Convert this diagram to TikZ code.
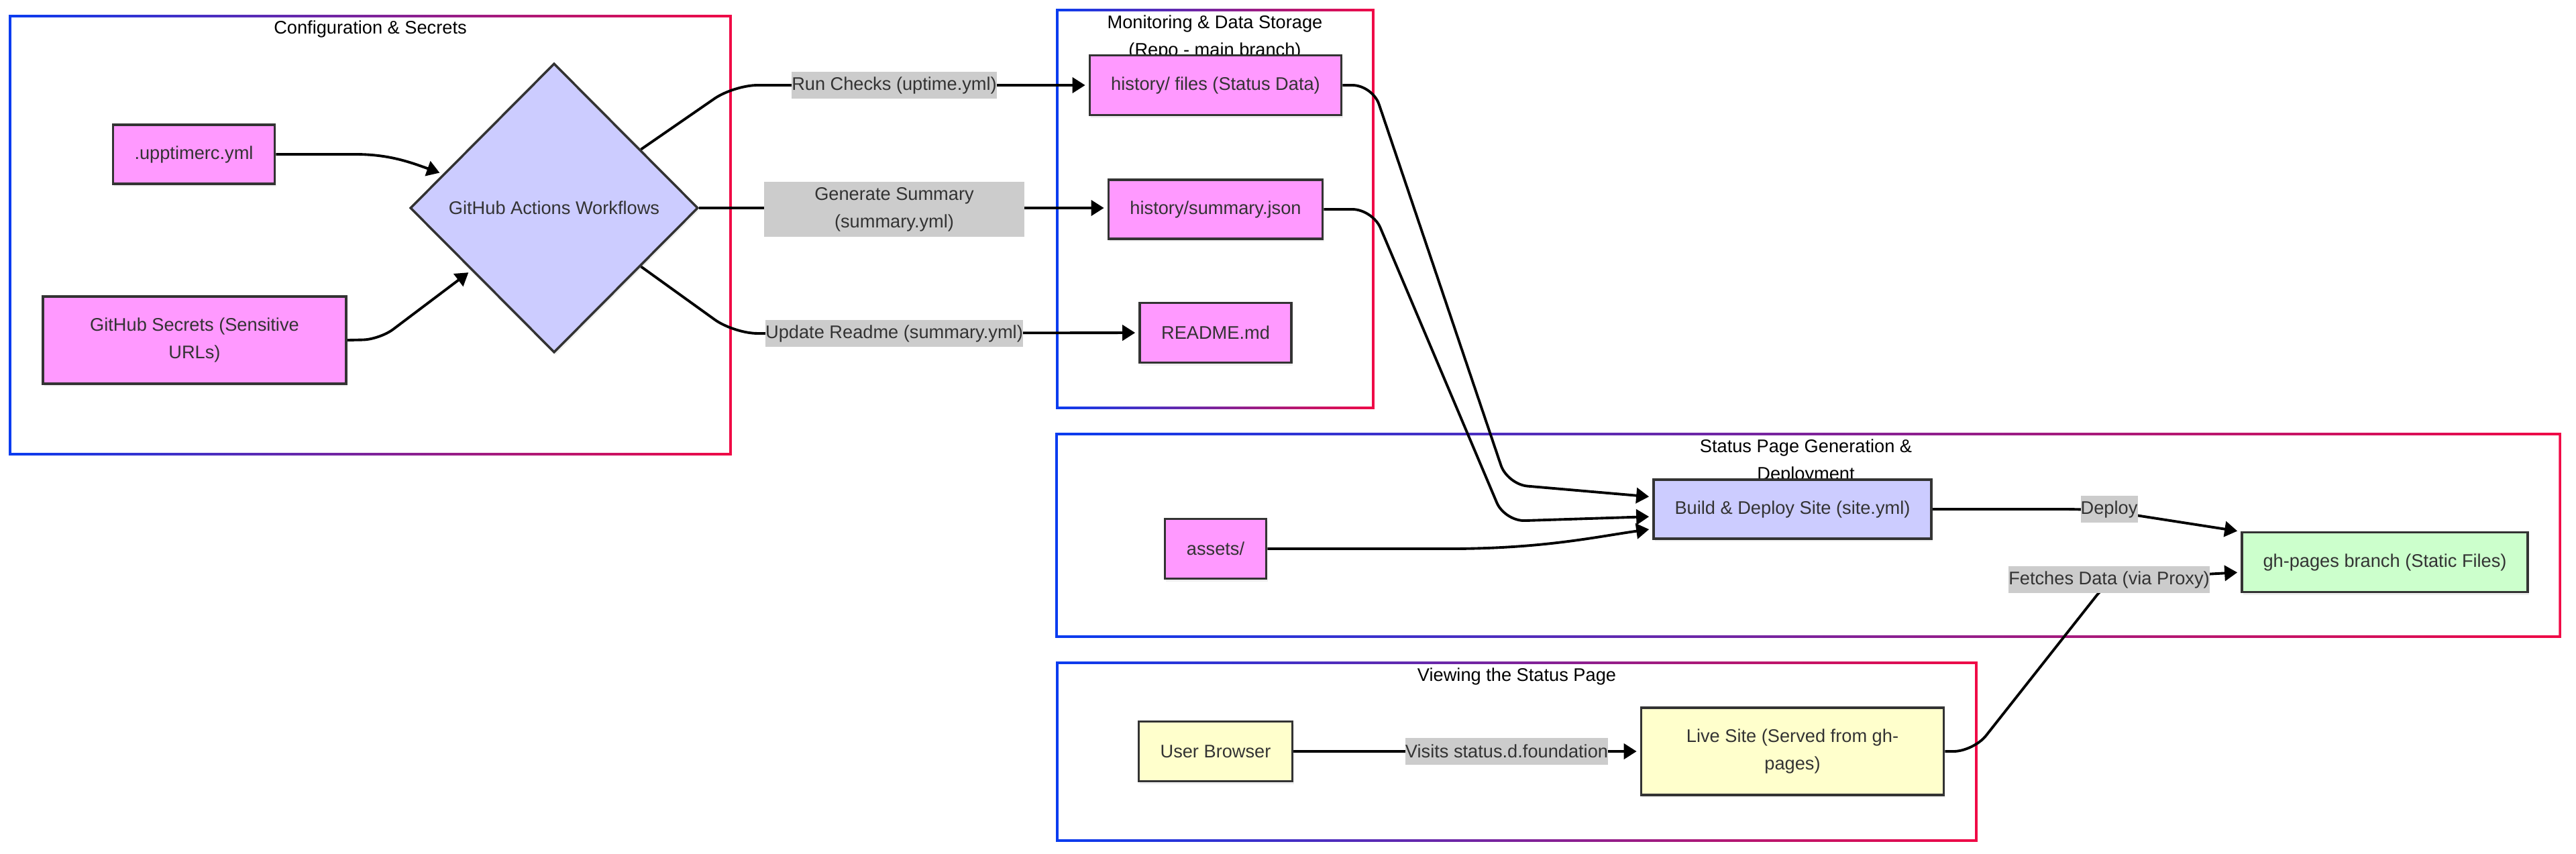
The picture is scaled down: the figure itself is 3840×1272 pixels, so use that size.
\documentclass[tikz,border=0pt]{standalone}
\usepackage{fontspec}
\setmainfont{Liberation Sans}
\usetikzlibrary{shapes.geometric,arrows.meta,shadows}
\definecolor{tx}{HTML}{333333}
\definecolor{pinkf}{HTML}{FF99FF}
\definecolor{bluef}{HTML}{CCCCFF}
\definecolor{greenf}{HTML}{CCFFCC}
\definecolor{yellowf}{HTML}{FFFFCC}
\definecolor{lblbg}{HTML}{CCCCCC}
\definecolor{cblue}{RGB}{10,60,240}
\definecolor{cred}{RGB}{240,10,70}
\pgfdeclarelayer{frames}
\pgfdeclarelayer{edges}
\pgfsetlayers{frames,edges,main}
\newcommand\gradframe[4]{%
  \shade[left color=cblue, right color=cred, even odd rule]
    (#1-1.8,#2-1.8) rectangle (#3+1.8,#4+1.8)
    (#1+1.8,#2+1.8) rectangle (#3-1.8,#4-1.8);}
\begin{document}
\begin{tikzpicture}[x=0.01cm,y=-0.01cm,
  font=\fontsize{7.74pt}{11.7pt}\selectfont,
  nbox/.style={draw=tx, line width=1pt, text=tx, inner sep=0pt, align=center,
    drop shadow={opacity=0.12, shadow xshift=0.02cm, shadow yshift=-0.04cm}},
  pinkbox/.style={nbox, fill=pinkf},
  bluebox/.style={nbox, fill=bluef},
  greenbox/.style={nbox, fill=greenf},
  yellowbox/.style={nbox, fill=yellowf},
  elabel/.style={fill=lblbg, text=tx, inner xsep=0pt, inner ysep=0pt, align=center, minimum height=0.40cm},
  edge/.style={draw=black, line width=1.1pt, -{Triangle[length=0.19cm,width=0.23cm]}, shorten >=0.05cm},
  ctitle/.style={text=black, inner sep=0pt, align=center},
]
\useasboundingbox (0,0) rectangle (3840,1272);

% clusters
\begin{pgfonlayer}{frames}
\gradframe{15}{24}{1089}{677}
\gradframe{1576}{15}{2047}{608}
\gradframe{1575}{647}{3816}{949}
\gradframe{1576}{988}{2946}{1253}
\node[ctitle] (t1) at (552,43) {Configuration \& Secrets};
\node[ctitle] (t2) at (1811,56) {Monitoring \& Data Storage\\(Repo - main branch)};
\node[ctitle] (t3) at (2692,688) {Status Page Generation \&\\Deployment};
\node[ctitle] (t4) at (2261,1008) {Viewing the Status Page};
\end{pgfonlayer}

% nodes
\node[pinkbox, minimum width=2.41cm, minimum height=0.88cm] (up) at (289,230) {.upptimerc.yml};
\node[diamond, aspect=1, draw=tx, fill=bluef, line width=1pt, text=tx, inner sep=0pt,
  minimum width=4.29cm, minimum height=4.31cm,
  drop shadow={opacity=0.12, shadow xshift=0.02cm, shadow yshift=-0.04cm}] (wf) at (826,310) {GitHub Actions Workflows};
\node[pinkbox, minimum width=4.52cm, minimum height=1.30cm] (gs) at (290,507) {GitHub Secrets (Sensitive\\URLs)};
\node[pinkbox, minimum width=3.75cm, minimum height=0.89cm] (hf) at (1812,127) {history/ files (Status Data)};
\node[pinkbox, minimum width=3.19cm, minimum height=0.88cm] (sj) at (1812,312) {history/summary.json};
\node[pinkbox, minimum width=2.26cm, minimum height=0.89cm] (rm) at (1812,496) {README.md};
\node[pinkbox, minimum width=1.51cm, minimum height=0.89cm] (as) at (1812,818) {assets/};
\node[bluebox, minimum width=4.14cm, minimum height=0.88cm] (bd) at (2672,759) {Build \& Deploy Site (site.yml)};
\node[greenbox, minimum width=4.26cm, minimum height=0.89cm] (gh) at (3555,838) {gh-pages branch (Static Files)};
\node[yellowbox, minimum width=2.29cm, minimum height=0.89cm] (ub) at (1812,1120) {User Browser};
\node[yellowbox, minimum width=4.51cm, minimum height=1.30cm] (ls) at (2672,1120) {Live Site (Served from gh-\\pages)};

% edge labels
\node[elabel, minimum width=3.06cm] (l1) at (1333,127) {Run Checks (uptime.yml)};
\node[elabel, minimum width=3.88cm, minimum height=0.81cm] (l2) at (1333,312) {Generate Summary\\(summary.yml)};
\node[elabel, minimum width=3.83cm] (l3) at (1333,497) {Update Readme (summary.yml)};
\node[elabel, minimum width=0.85cm] (l4) at (3144,759) {Deploy};
\node[elabel, minimum width=2.99cm] (l5) at (3144,864) {Fetches Data (via Proxy)};
\node[elabel, minimum width=3.01cm] (l6) at (2246,1120) {Visits status.d.foundation};

% edges
\begin{pgfonlayer}{edges}
\draw[edge] (up.east) -- (530,230) .. controls (580,230) and (612,242) .. (wf.163);
\draw[edge, rounded corners=0.25cm] (gs.east) -- (566,506) -- (wf.217);
\draw[edge, rounded corners=0.35cm] (wf.34) -- (1094,127) -- (hf.west);
\draw[edge] (wf.east) -- (wf.east -| sj.west);
\draw[edge, rounded corners=0.35cm] (wf.-34) -- (1094,497) -- (rm.west);
\draw[edge, rounded corners=0.3cm] (hf.east) -- (2046,127) -- (2247,722) -- (bd.175);
\draw[edge, rounded corners=0.3cm] (sj.east) -- (2046,312) -- (2243,777) -- (bd.183);
\draw[edge] (as.east) -- (2160,818) .. controls (2300,818) and (2380,800) .. (bd.188);
\draw[edge] (bd.east) -- (3075,759) .. controls (3120,759) and (3150,762) .. (3190,769) -- (gh.168);
\draw[edge, rounded corners=0.3cm] (ls.east) -- (2942,1120) -- (l5.center) -- (gh.184);
\draw[edge] (ub.east) -- (ls.west);
\end{pgfonlayer}
\end{tikzpicture}
\end{document}
